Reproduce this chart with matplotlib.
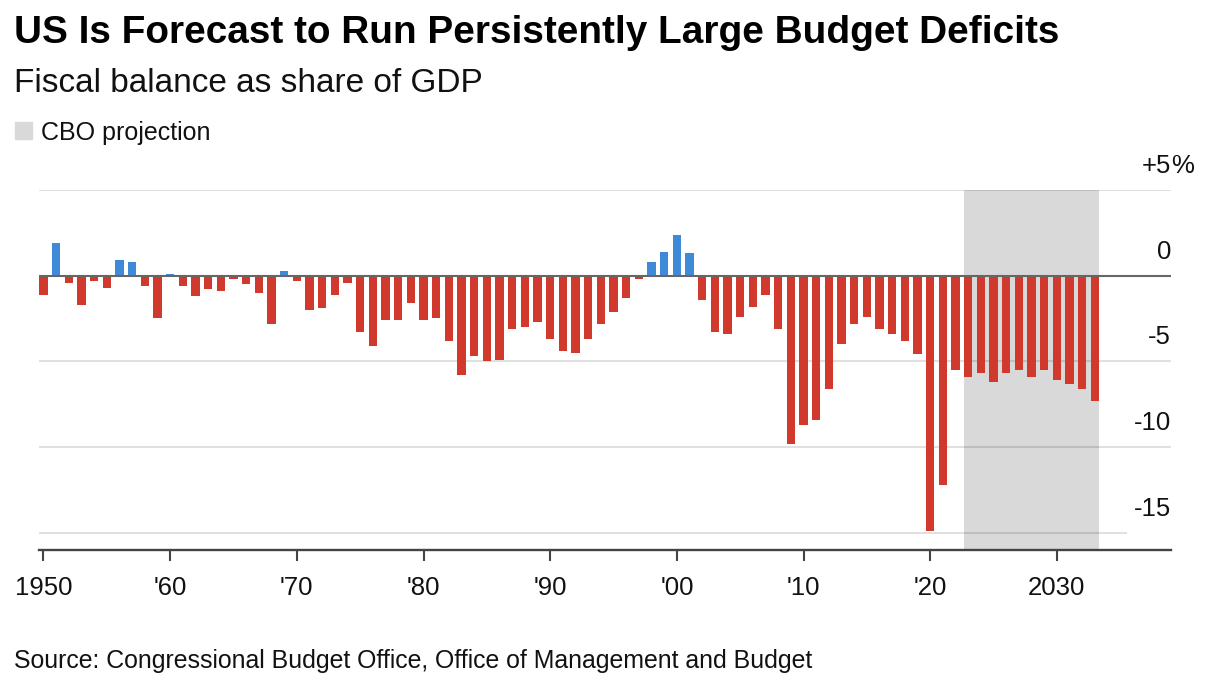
import matplotlib
matplotlib.use("Agg")
import matplotlib.pyplot as plt
import numpy as np

plt.rcParams['font.family'] = ['Liberation Sans', 'DejaVu Sans']

years = list(range(1950, 2034))
balance = [
    -1.1, 1.9, -0.4, -1.7, -0.3, -0.7, 0.9, 0.8, -0.6, -2.5,   # 1950s
    0.1, -0.6, -1.2, -0.8, -0.9, -0.2, -0.5, -1.0, -2.8, 0.3,  # 1960s
    -0.3, -2.0, -1.9, -1.1, -0.4, -3.3, -4.1, -2.6, -2.6, -1.6,  # 1970s
    -2.6, -2.5, -3.8, -5.8, -4.7, -5.0, -4.9, -3.1, -3.0, -2.7,  # 1980s
    -3.7, -4.4, -4.5, -3.7, -2.8, -2.1, -1.3, -0.2, 0.8, 1.4,  # 1990s
    2.4, 1.3, -1.4, -3.3, -3.4, -2.4, -1.8, -1.1, -3.1, -9.8,  # 2000s
    -8.7, -8.4, -6.6, -4.0, -2.8, -2.4, -3.1, -3.4, -3.8, -4.6,  # 2010s
    -14.9, -12.2, -5.5, -5.9, -5.7, -6.2, -5.7, -5.5, -5.9, -5.5,  # 2020s
    -6.1, -6.3, -6.6, -7.3,
]
proj_start, proj_end = 2023, 2033

tick_years = [1950, 1960, 1970, 1980, 1990, 2000, 2010, 2020, 2030]
tick_labels = ["1950", "'60", "'70", "'80", "'90", "'00", "'10", "'20", "2030"]
y_levels = [5, 0, -5, -10, -15]
y_labels = ["+5", "0", "-5", "-10", "-15"]

red = "#d1392c"
blue = "#3d8ad9"
shade = "#d9d9d9"

W, H = 1211, 699
fig = plt.figure(figsize=(W / 100, H / 100), dpi=100)
left_px, right_px = 39.3, 1171
top_px, bot_px = 190, 549.8
ax = fig.add_axes([left_px / W, 1 - bot_px / H, (right_px - left_px) / W, (bot_px - top_px) / H])

bw = 0.66
xmin = 1950 - bw / 2
xmax = 1950 + (right_px - 43.3) / 12.67
ax.set_xlim(xmin, xmax)
ax.set_ylim(-16, 5)

# shaded CBO projection period
ax.axvspan(proj_start - bw / 2, proj_end + bw / 2, color=shade, zorder=0, lw=0)

for lv in y_levels:
    if lv == 0:
        continue
    x_end = 2035.5 if lv == -15 else xmax
    ax.plot([xmin, x_end], [lv, lv], color="black", alpha=0.12, lw=1.5, zorder=1,
            solid_capstyle="butt")

colors = [blue if v > 0 else red for v in balance]
ax.bar(years, balance, width=bw, color=colors, zorder=2, lw=0)
ax.axhline(0, color="#666666", lw=1.5, zorder=3)

for s in ["top", "left", "right"]:
    ax.spines[s].set_visible(False)
ax.spines["bottom"].set_color("#444444")
ax.spines["bottom"].set_linewidth(1.7)
ax.set_yticks([])
ax.set_xticks(tick_years)
ax.set_xticklabels(tick_labels, fontsize=18.5, color="#111111")
ax.tick_params(axis="x", length=8, width=1.5, color="#444444", pad=11)

trans = matplotlib.transforms.blended_transform_factory(fig.transFigure, ax.transData)
for lv, lab in zip(y_levels, y_labels):
    ax.text(right_px / W, lv + 1.0, lab, transform=trans, ha="right", va="baseline",
            fontsize=18.5, color="#111111")
ax.text(right_px / W, 5 + 1.0, "%", transform=trans, ha="left", va="baseline",
        fontsize=18.5, color="#111111")

fig.text(14 / W, 1 - 43 / H, "US Is Forecast to Run Persistently Large Budget Deficits",
         fontsize=27.9, fontweight="bold", ha="left", va="baseline", color="black")
fig.text(14 / W, 1 - 92 / H, "Fiscal balance as share of GDP",
         fontsize=24, ha="left", va="baseline", color="#111111")
fig.patches.append(matplotlib.patches.Rectangle((15 / W, 1 - 139 / H), 17 / W, 17 / H,
                                                transform=fig.transFigure, color=shade))
fig.text(41 / W, 1 - 140 / H, "CBO projection", fontsize=18, ha="left", va="baseline",
         color="#111111")
fig.text(14 / W, 1 - 668 / H, "Source: Congressional Budget Office, Office of Management and Budget",
         fontsize=17.9, ha="left", va="baseline", color="#111111")

fig.savefig("out.png", dpi=100)
